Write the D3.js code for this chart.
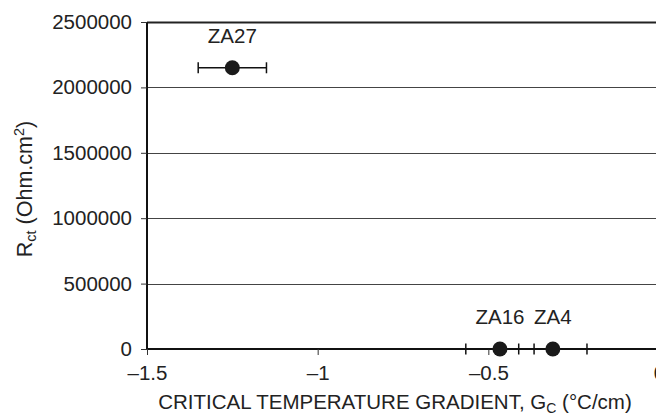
<!DOCTYPE html>
<html>
<head>
<meta charset="utf-8">
<script src="https://cdn.jsdelivr.net/npm/d3@7"></script>
<style>
  body { margin: 0; background: #fff; }
  text { font-family: "Liberation Sans", Arial, sans-serif; fill: #222; }
</style>
</head>
<body>
<svg id="chart"></svg>
<script>
// data
const samples = ["ZA27", "ZA16", "ZA4"];
const gradient = [-1.25, -0.466, -0.311];
const gradientErr = [0.1, 0.1, 0.1];
const rct = [2150000, 0, 0];
const xTicks = [-1.5, -1, -0.5, 0];
const yTicks = [0, 500000, 1000000, 1500000, 2000000, 2500000];

const width = 656, height = 416;
const margin = {top: 22, left: 147};
const plotRight = 659, plotBottom = 349;
const fs = 20.5;

const svg = d3.select("#chart")
    .attr("width", width)
    .attr("height", height);

const x = d3.scaleLinear()
    .domain([-1.5, 0])
    .range([margin.left, plotRight]);

const y = d3.scaleLinear()
    .domain([0, 2500000])
    .range([plotBottom, margin.top]);

const data = samples.map((s, i) => ({name: s, gx: gradient[i], err: gradientErr[i], r: rct[i]}));

const minus = v => (v < 0 ? "\u2013" + Math.abs(v) : String(v));

// gridlines
svg.append("g")
  .selectAll("line")
  .data(yTicks.filter(d => d > 0))
  .join("line")
    .attr("x1", margin.left)
    .attr("x2", width)
    .attr("y1", d => Math.round(y(d)) + 0.5)
    .attr("y2", d => Math.round(y(d)) + 0.5)
    .attr("stroke", d => d === 2500000 ? "#222" : "#444")
    .attr("stroke-width", d => d === 2500000 ? 2 : 1);

// y axis
const yAxis = g => g
    .attr("transform", `translate(${margin.left},0)`)
    .call(d3.axisLeft(y).tickValues(yTicks).tickFormat(d3.format("d")).tickSize(6).tickPadding(9))
    .call(g => g.select(".domain").attr("stroke", "#111").attr("stroke-width", 2).attr("d", `M0,${plotBottom}V${margin.top}`))
    .call(g => g.selectAll(".tick line").attr("stroke", "#333"))
    .call(g => g.selectAll(".tick text").attr("font-size", fs).attr("fill", "#222"));

// x axis
const xAxis = g => g
    .attr("transform", `translate(0,${plotBottom})`)
    .call(d3.axisBottom(x).tickValues(xTicks).tickFormat(minus).tickSize(6).tickPadding(10))
    .call(g => g.select(".domain").attr("stroke", "#111").attr("stroke-width", 2).attr("d", `M${margin.left},0H${plotRight}`))
    .call(g => g.selectAll(".tick line").attr("stroke", "#333"))
    .call(g => g.selectAll(".tick text").attr("font-size", fs).attr("fill", "#222"));

svg.append("g").call(yAxis);
svg.append("g").call(xAxis);

// error bars
const eb = svg.append("g")
    .attr("stroke", "#111")
    .attr("stroke-width", 1.5);

eb.selectAll("line.bar")
  .data(data)
  .join("line")
    .attr("class", "bar")
    .attr("x1", d => x(d.gx - d.err))
    .attr("x2", d => x(d.gx + d.err))
    .attr("y1", d => y(d.r))
    .attr("y2", d => y(d.r));

eb.selectAll("line.capL")
  .data(data)
  .join("line")
    .attr("class", "capL")
    .attr("x1", d => x(d.gx - d.err))
    .attr("x2", d => x(d.gx - d.err))
    .attr("y1", d => y(d.r) - 5.5)
    .attr("y2", d => y(d.r) + 5.5);

eb.selectAll("line.capR")
  .data(data)
  .join("line")
    .attr("class", "capR")
    .attr("x1", d => x(d.gx + d.err))
    .attr("x2", d => x(d.gx + d.err))
    .attr("y1", d => y(d.r) - 5.5)
    .attr("y2", d => y(d.r) + 5.5);

// points
svg.append("g")
  .selectAll("circle")
  .data(data)
  .join("circle")
    .attr("cx", d => x(d.gx))
    .attr("cy", d => y(d.r))
    .attr("r", 7.5)
    .attr("fill", "#1a1a1a");

// point labels
svg.append("g")
  .selectAll("text")
  .data(data)
  .join("text")
    .attr("x", d => x(d.gx))
    .attr("y", d => y(d.r) - 25)
    .attr("text-anchor", "middle")
    .attr("font-size", fs)
    .text(d => d.name);

// axis titles
const xt = svg.append("text")
    .attr("x", 395)
    .attr("y", 409)
    .attr("text-anchor", "middle")
    .attr("font-size", fs);
xt.append("tspan").text("CRITICAL TEMPERATURE GRADIENT, G");
xt.append("tspan").attr("font-size", 14).attr("dy", 4).text("C");
xt.append("tspan").attr("dy", -4).text(" (\u00B0C/cm)");

const yt = svg.append("text")
    .attr("transform", "translate(32,189) rotate(-90)")
    .attr("text-anchor", "middle")
    .attr("font-size", 21.5);
yt.append("tspan").text("R");
yt.append("tspan").attr("font-size", 14.5).attr("dy", 4).text("ct");
yt.append("tspan").attr("dy", -4).text(" (Ohm.cm");
yt.append("tspan").attr("font-size", 14.5).attr("dy", -8).text("2");
yt.append("tspan").attr("dy", 8).text(")");
</script>
</body>
</html>
